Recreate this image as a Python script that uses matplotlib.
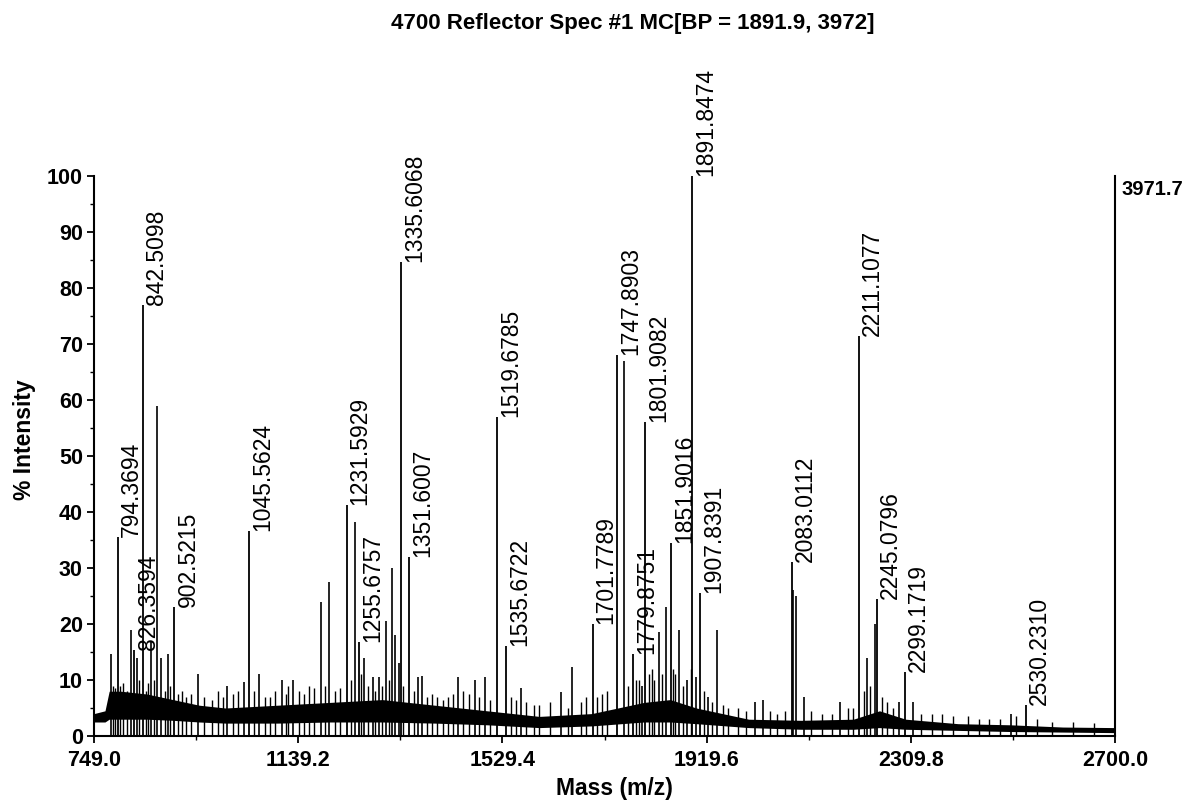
import numpy as np
import matplotlib
matplotlib.use("Agg")
import matplotlib.pyplot as plt

plt.rcParams['font.family'] = ['Liberation Sans', 'DejaVu Sans']

# labelled peaks (m/z, % intensity)
label_mass = [794.3694, 826.3594, 842.5098, 902.5215, 1045.5624, 1231.5929,
              1255.6757, 1335.6068, 1351.6007, 1519.6785, 1535.6722, 1701.7789,
              1747.8903, 1779.8751, 1801.9082, 1851.9016, 1891.8474, 1907.8391,
              2083.0112, 2211.1077, 2245.0796, 2299.1719, 2530.2310]
label_int = [35.5, 15.4, 77, 23, 36.6, 41.3,
             16.7, 84.6, 32, 57, 16, 20,
             68, 14.6, 56, 34.5, 100, 25.5,
             31, 71.5, 24.5, 11.5, 5.5]

# other visible peaks without labels
other_mass = [781.7, 820.3, 831.0, 858.3, 869.0, 877.3, 890.0, 946.9, 1003.2,
              1034.8, 1063.9, 1107.6, 1129.7, 1182.2, 1198.0, 1248.5, 1265.5,
              1281.4, 1294.2, 1307.0, 1318.5, 1324.2, 1332.6, 1367.7, 1376.0,
              1444.4, 1477.6, 1495.5, 1564.5, 1641.2, 1661.6, 1761.5, 1795.9,
              1827.7, 1842.3, 1867.1, 1881.7, 1899.5, 1923.1, 1940.2, 2012.1,
              2028.0, 2085.2, 2090.3, 2105.6, 2174.2, 2226.4, 2241.4, 2287.9,
              2314.6, 2500.6]
other_int = [14.7, 19, 14, 17, 59, 14, 14.7, 11, 9,
             9.6, 11, 10, 10, 24, 27.5, 38.3, 14,
             10.5, 10.5, 20.5, 30, 18, 13, 10.5, 10.7,
             10.5, 10, 10.5, 8.5, 7.8, 12.3, 67, 9,
             18.6, 23, 19, 10, 10.5, 7, 19, 6,
             6.5, 26, 25, 7, 6, 14, 20, 6,
             6, 4]

# small spikes sitting on the noise
spike_mass = [785, 790, 798, 805, 812, 835, 848, 852, 863, 884, 895, 910, 918,
              925, 935, 960, 975, 985, 995, 1015, 1025, 1055, 1075, 1085, 1095,
              1115, 1120, 1140, 1150, 1160, 1170, 1190, 1210, 1220, 1240, 1260,
              1272, 1285, 1300, 1312, 1340, 1360, 1385, 1395, 1405, 1415, 1425,
              1435, 1455, 1465, 1485, 1505, 1545, 1555, 1575, 1590, 1600, 1620,
              1655, 1680, 1690, 1710, 1720, 1730, 1770, 1785, 1790, 1810, 1815,
              1820, 1835, 1855, 1860, 1875, 1890, 1915, 1930, 1950, 1960, 1980,
              1995, 2040, 2055, 2070, 2120, 2140, 2160, 2190, 2200, 2220, 2232,
              2255, 2265, 2275, 2330, 2350, 2370, 2390, 2420, 2440, 2460, 2480,
              2510, 2550, 2580, 2620, 2660]
spike_int = [9, 8.5, 9, 9.5, 8, 10, 8, 9.5, 10, 8, 9, 7.5, 8,
             7, 7.5, 7, 6.5, 8, 7, 7.5, 8, 8, 7, 7, 8,
             7.5, 9, 8, 7.5, 9, 8.5, 9, 8, 8.5, 10, 11,
             9, 8, 9, 10, 9, 8, 7, 7.5, 7, 6.5, 7,
             7.5, 8, 7.5, 7, 6.5, 7, 6.5, 6, 5.5, 5.5, 6,
             5, 6, 7, 7, 7.5, 8, 9, 10, 10, 11, 12,
             10, 11, 12, 11, 9, 12, 8, 6, 5.5, 5, 5,
             4.5, 4.5, 4, 4.5, 4.5, 4, 4, 5, 5, 8, 9,
             7, 6, 5, 4, 4, 4, 3.5, 3.5, 3, 3, 3,
             3.5, 3, 2.5, 2.5, 2.3]

# noise band of the baseline (lower / upper edge)
band_mass = [749, 770, 778, 800, 850, 900, 950, 1000, 1100, 1200, 1300, 1400,
             1500, 1600, 1700, 1800, 1850, 1900, 2000, 2100, 2200, 2250, 2300,
             2400, 2500, 2600, 2700]
band_lo = [2.5, 2.5, 3.0, 3.0, 3.0, 2.8, 2.5, 2.3, 2.3, 2.5, 2.5, 2.3,
           2.0, 1.5, 1.8, 2.5, 2.5, 2.2, 1.5, 1.2, 1.2, 1.5, 1.2,
           1.0, 0.8, 0.7, 0.6]
band_hi = [4.0, 4.5, 8.0, 8.0, 7.5, 6.5, 5.5, 5.0, 5.5, 6.0, 6.5, 5.5,
           4.5, 3.5, 4.0, 6.0, 6.5, 5.0, 3.0, 2.8, 3.0, 4.5, 3.0,
           2.2, 2.0, 1.6, 1.5]

x_ticks = [749.0, 1139.2, 1529.4, 1919.6, 2309.8, 2700.0]
y_ticks = [0, 10, 20, 30, 40, 50, 60, 70, 80, 90, 100]

fig = plt.figure(figsize=(11.92, 8.02), dpi=100)
ax = fig.add_axes([94 / 1192, 66 / 802, 1021 / 1192, 560 / 802])

ax.fill_between(band_mass, band_lo, band_hi, color='black', lw=0)
ax.vlines(spike_mass, 0, spike_int, color='black', lw=1.0)
ax.vlines(other_mass, 0, other_int, color='black', lw=1.2)
ax.vlines(label_mass, 0, label_int, color='black', lw=1.3)

for m, h in zip(label_mass, label_int):
    ax.annotate('%.4f' % m, xy=(m, h), xytext=(1.5, 0), textcoords='offset points',
                rotation=90, ha='left', va='bottom', fontsize=16.5,
                annotation_clip=False)

ax.set_xlim(749, 2700)
ax.set_ylim(0, 100)
ax.set_xticks(x_ticks)
ax.set_xticklabels(['%.1f' % t for t in x_ticks])
ax.set_xticks([(a + b) / 2 for a, b in zip(x_ticks[:-1], x_ticks[1:])], minor=True)
ax.set_yticks(y_ticks)
ax.set_yticks([t + 5 for t in y_ticks[:-1]], minor=True)
ax.tick_params(which='major', length=5, width=1.3, labelsize=15.5)
ax.tick_params(axis='x', which='major', pad=5)
ax.tick_params(axis='y', which='major', pad=3)
ax.tick_params(which='minor', length=3, width=1)
for lab in ax.get_xticklabels() + ax.get_yticklabels():
    lab.set_fontweight('bold')

ax.spines['top'].set_visible(False)
for s in ['left', 'bottom', 'right']:
    ax.spines[s].set_linewidth(1.5)

ax.annotate('3971.7', xy=(2700, 100), xytext=(5, -3), textcoords='offset points',
            ha='left', va='top', fontsize=14.5, fontweight='bold',
            annotation_clip=False)

fig.text(633 / 1192, 1 - 24 / 802, '4700 Reflector Spec #1 MC[BP = 1891.9, 3972]',
         ha='center', va='center', fontsize=16, fontweight='bold')
fig.text(614 / 1192, 1 - 789 / 802, 'Mass (m/z)', ha='center', va='center',
         fontsize=16.5, fontweight='bold')
fig.text(25 / 1192, 1 - 440 / 802, '% Intensity', ha='center', va='center',
         rotation=90, fontsize=16.5, fontweight='bold')

fig.savefig('out.png', dpi=100, facecolor='white')
